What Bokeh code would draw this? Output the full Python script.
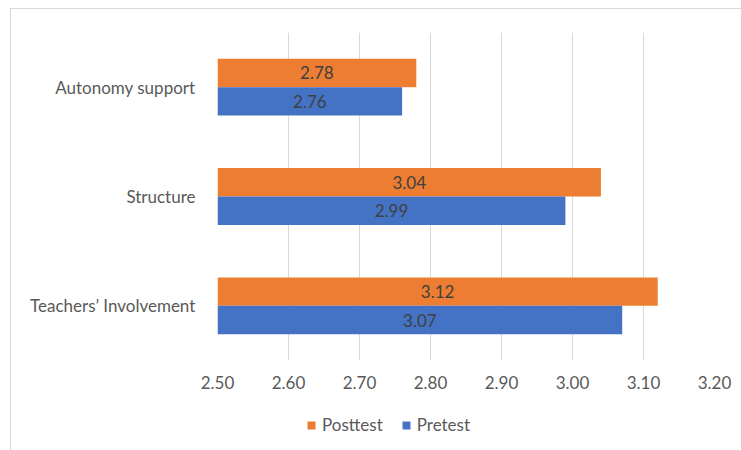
from bokeh.plotting import figure
from bokeh.layouts import column
from bokeh.models import (ColumnDataSource, FactorRange, Range1d, Legend, LegendItem,
                          FixedTicker, NumeralTickFormatter)
from bokeh.transform import dodge
from bokeh.core.properties import value
from bokeh.embed import file_html
from bokeh.resources import INLINE

categories = ["Teachers\u2019 Involvement", "Structure", "Autonomy support"]
posttest = [3.12, 3.04, 2.78]
pretest = [3.07, 2.99, 2.76]
series_names = ["Posttest", "Pretest"]
x_ticks = [2.50, 2.60, 2.70, 2.80, 2.90, 3.00, 3.10, 3.20]
x_start, x_end = 2.50, 3.20

FONT = "Lato"
ORANGE = "#ED7D31"
BLUE = "#4472C4"
BORDER = "1.5px solid #D9D9D9"

src = ColumnDataSource(dict(
    cat=categories,
    post=posttest,
    pre=pretest,
    post_mid=[(x_start + v) / 2 for v in posttest],
    pre_mid=[(x_start + v) / 2 for v in pretest],
    post_lbl=["%.2f" % v for v in posttest],
    pre_lbl=["%.2f" % v for v in pretest],
))

p = figure(width=731, height=392, output_backend="svg", toolbar_location=None,
           y_range=FactorRange(*categories, range_padding=0),
           x_range=Range1d(x_start, x_end),
           min_border_left=206, min_border_right=28, min_border_top=23, min_border_bottom=41)
p.outline_line_color = None
p.background_fill_color = "white"
p.border_fill_color = "white"
p.styles = {"border-left": BORDER, "border-top": BORDER}

bh = 0.26
p.hbar(y=dodge("cat", bh / 2, range=p.y_range), left=x_start, right="post",
       height=bh, source=src, fill_color=ORANGE, line_color=None)
p.hbar(y=dodge("cat", -bh / 2, range=p.y_range), left=x_start, right="pre",
       height=bh, source=src, fill_color=BLUE, line_color=None)

p.text(x="post_mid", y=dodge("cat", bh / 2, range=p.y_range), text="post_lbl", source=src,
       text_align="center", text_baseline="middle", text_font=value(FONT),
       text_font_size="17px", text_color="#404040")
p.text(x="pre_mid", y=dodge("cat", -bh / 2, range=p.y_range), text="pre_lbl", source=src,
       text_align="center", text_baseline="middle", text_font=value(FONT),
       text_font_size="17px", text_color="#404040")

p.xgrid.grid_line_color = "#D9D9D9"
p.xgrid.grid_line_width = 1
p.ygrid.grid_line_color = None

p.xaxis.ticker = FixedTicker(ticks=x_ticks)
p.xaxis.formatter = NumeralTickFormatter(format="0.00")
for ax in (p.xaxis[0], p.yaxis[0]):
    ax.axis_line_color = None
    ax.major_tick_line_color = None
    ax.minor_tick_line_color = None
    ax.major_tick_out = 0
    ax.major_tick_in = 0
    ax.major_label_text_font = FONT
    ax.major_label_text_font_size = "17px"
    ax.major_label_text_color = "#595959"
p.xaxis.major_label_standoff = 15
p.yaxis.major_label_standoff = 22

# legend strip below the chart (its frame is aligned with the chart's frame by the column)
lg = figure(width=731, height=50, output_backend="svg", toolbar_location=None,
            x_range=Range1d(0, 1), y_range=Range1d(0, 1),
            x_axis_type=None, y_axis_type=None,
            min_border_left=0, min_border_right=0, min_border_top=0, min_border_bottom=0)
lg.outline_line_color = None
lg.xgrid.visible = False
lg.ygrid.visible = False
lg.styles = {"border-left": BORDER}
# zero-size proxy bars (outside the visible range) that only carry the legend styling
r_post = lg.hbar(y=[-5], left=[0], right=[0], height=0.1, fill_color=ORANGE, line_color=None)
r_pre = lg.hbar(y=[-5], left=[0], right=[0], height=0.1, fill_color=BLUE, line_color=None)

legend = Legend(items=[LegendItem(label=series_names[0], renderers=[r_post]),
                       LegendItem(label=series_names[1], renderers=[r_pre])],
                orientation="horizontal", location=(89, 15),
                padding=0, margin=0, spacing=18, label_standoff=6,
                glyph_width=10, glyph_height=10, label_height=18,
                label_text_font=FONT, label_text_font_size="17px",
                label_text_color="#595959",
                border_line_color=None, background_fill_alpha=0)
lg.add_layout(legend, "center")

layout = column(p, lg, spacing=0)
layout.margin = (8, 0, 0, 10)

open("out.html", "w").write(file_html(layout, INLINE))
